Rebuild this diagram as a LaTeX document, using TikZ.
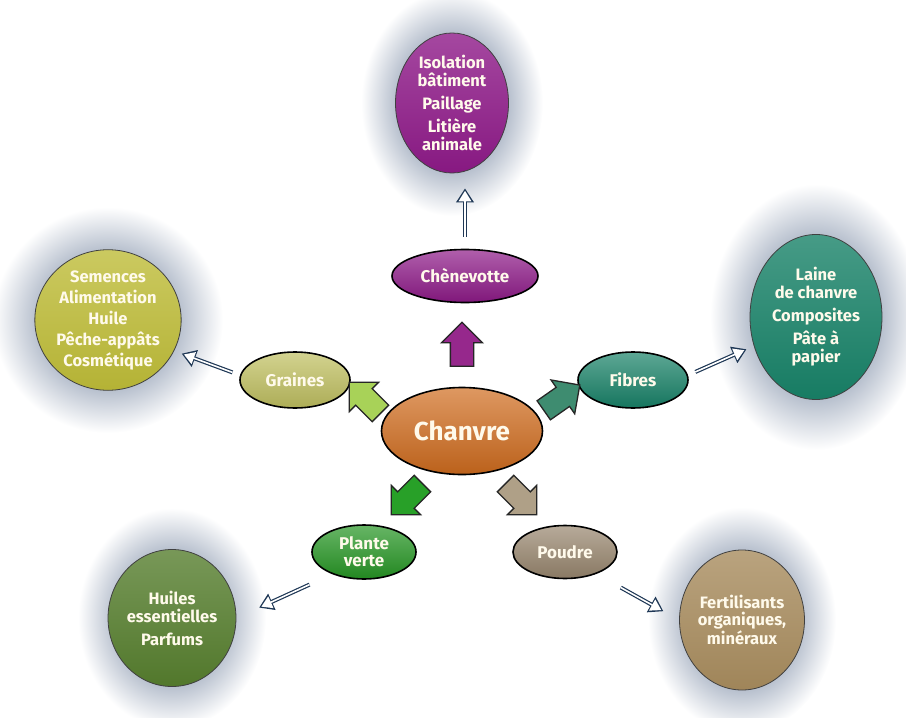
\documentclass[tikz,border=0pt]{standalone}
\usepackage{fontspec}
\setmainfont{Fira Sans}
\usetikzlibrary{
	arrows.meta,
	positioning,
	shapes.geometric,
	shapes.arrows,
	backgrounds
}

\definecolor{violetc}{RGB}{142,26,136}
\definecolor{orangec}{RGB}{208,108,30}
\definecolor{grainec}{RGB}{192,192,96}
\definecolor{jaunec}{RGB}{190,188,56}
\definecolor{sarcelle}{RGB}{24,130,104}
\definecolor{vertc}{RGB}{38,150,36}
\definecolor{vertfonce}{RGB}{86,126,46}
\definecolor{poudrec}{RGB}{152,134,110}
\definecolor{brunc}{RGB}{168,140,94}
\definecolor{violetfl}{RGB}{150,40,140}
\definecolor{vertclair}{RGB}{168,210,88}
\definecolor{sarcellefl}{RGB}{62,140,112}
\definecolor{vertfl}{RGB}{40,160,40}
\definecolor{poudrefl}{RGB}{175,160,135}
\definecolor{lienbleu}{RGB}{30,55,85}
\definecolor{texte}{RGB}{255,250,235}
\definecolor{halo}{RGB}{172,182,198}

\pgfdeclareradialshading{halofond}{\pgfpoint{0bp}{0bp}}{color(0bp)=(halo); color(14bp)=(halo); color(25bp)=(white); color(50bp)=(white)}

\begin{document}
\begin{tikzpicture}[
			x=1pt, y=-1pt,
			>=Stealth,
			bulle/.style={ellipse, draw=black, line width=1.6pt, inner sep=0pt, align=center, text=texte, font=\fontsize{17}{17}\selectfont\bfseries, top color=#1!70!white, bottom color=#1!90!black},
			grande/.style={ellipse, draw=black!75, line width=0.8pt, inner sep=0pt, align=center, text=texte, font=\fontsize{16.5}{18}\selectfont\bfseries, top color=#1!80!white, bottom color=#1!95!black},
			bloc/.style={single arrow, draw=black!85, line width=1.3pt, fill=#1, minimum height=44pt, text height=11pt, text depth=11pt, single arrow head extend=9pt, inner sep=0pt},
			lien/.style 2 args={draw=lienbleu, line width=4pt, shorten <=#1, shorten >=#2, -{Triangle[length=14pt, width=17pt]},
				postaction={draw=white, line width=1.6pt, shorten <=#1, shorten >=#2+2.4pt, -{Triangle[length=10.5pt, width=12.5pt]}}},
			halo/.style={shading=halofond}
		]
		\useasboundingbox (0,0) rectangle (906,718);

		\node[bulle=orangec, minimum width=161pt, minimum height=87pt, font=\fontsize{26}{28}\selectfont\bfseries] (chanvre) at (462,431) {Chanvre};

		\node[bulle=violetc, minimum width=146pt, minimum height=53pt] (chen) at (465,276) {Chènevotte};
		\node[bulle=grainec, minimum width=110pt, minimum height=56pt] (graines) at (295,380) {Graines};
		\node[bulle=sarcelle, minimum width=110pt, minimum height=56pt] (fibres) at (633,380) {Fibres};
		\node[bulle=vertc, minimum width=104pt, minimum height=54pt] (plante) at (364,552) {Plante\\verte};
		\node[bulle=poudrec, minimum width=104pt, minimum height=53pt] (poudre) at (565,552) {Poudre};

		\node[grande=violetc, minimum width=113pt, minimum height=140pt] (isol) at (452,103) {Isolation\\bâtiment\\[5pt]Paillage\\[5pt]Litière\\animale};
		\node[grande=jaunec, minimum width=143pt, minimum height=140pt, font=\fontsize{16.5}{21}\selectfont\bfseries] (sem) at (108,320) {Semences\\Alimentation\\Huile\\Pêche-appâts\\Cosmétique};
		\node[grande=sarcelle, minimum width=132pt, minimum height=165pt] (laine) at (816,317) {Laine\\de chanvre\\[5pt]Composites\\[5pt]Pâte à\\papier};
		\node[grande=vertfonce, minimum width=117pt, minimum height=137pt] (huiles) at (172,618) {Huiles\\essentielles\\[5pt]Parfums};
		\node[grande=brunc, minimum width=117pt, minimum height=140pt, font=\fontsize{16.5}{17}\selectfont\bfseries] (fert) at (742,620) {Fertilisants\\organiques,\\minéraux};

		\node[bloc=violetfl, rotate=90] (fchen) at (462,350) {};
		\node[bloc=vertclair, rotate=135] (fgraines) at (369,402) {};
		\node[bloc=sarcellefl, rotate=35] (ffibres) at (557,401) {};
		\node[bloc=vertfl, rotate=225] (fplante) at (411,495) {};
		\node[bloc=poudrefl, rotate=315] (fpoudre) at (517,495) {};

		\draw[lien={12pt}{15pt}] (chen.north) -- (chen.north |- isol.south);
		\draw[lien={8pt}{8pt}] (graines.175) -- (sem.-25);
		\draw[lien={8pt}{8pt}] (fibres.5) -- (laine.-155);
		\draw[lien={25pt}{25pt}] (plante.215) -- (huiles.east);
		\draw[lien={28pt}{18pt}] (poudre.-35) -- (fert.west);

		\begin{scope}[on background layer]
			\shade[halo] (isol.center) ellipse [x radius=91pt, y radius=113pt];
			\shade[halo] (sem.center) ellipse [x radius=115pt, y radius=113pt];
			\shade[halo] (laine.center) ellipse [x radius=106pt, y radius=133pt];
			\shade[halo] (huiles.center) ellipse [x radius=94pt, y radius=110pt];
			\shade[halo] (fert.center) ellipse [x radius=94pt, y radius=113pt];
		\end{scope}
	\end{tikzpicture}
\end{document}
